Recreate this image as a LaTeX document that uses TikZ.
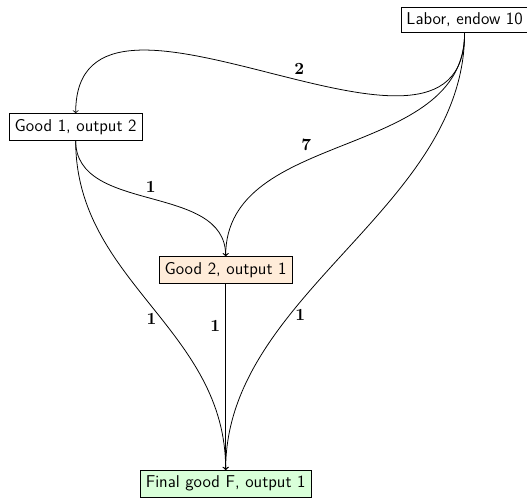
\documentclass[tikz,border=0pt]{standalone}
\usepackage{amsmath}
\begin{document}
\begin{tikzpicture}
        % Common Styles
        \tikzset{good/.style={draw, rectangle, font=\sffamily\fontsize{11}{13}\selectfont, inner sep=3.6pt}}
        \tikzset{flow/.style={->, line width=0.5pt}}
        \tikzset{qty/.style={font=\fontsize{11}{13}\selectfont}}

        \useasboundingbox (0, 0) rectangle (11.91, -11.25);

        % Nodes
        \node[good] (L) at (10.50, -0.45) {Labor, endow 10};
        \node[good] (G1) at (1.71, -2.87) {Good 1, output 2};
        \node[good, fill=orange!15] (G2) at (5.10, -6.10) {Good 2, output 1};
        \node[good, fill=green!15] (F) at (5.10, -10.93) {Final good F, output 1};

        % Labor flows
        \draw[flow] (L.south) to[out=-90, in=90, looseness=1.15] node[pos=0.45, above, qty] {$\mathbf{2}$} (G1.north);
        \draw[flow] (L.south) to[out=-90, in=90, looseness=1.0] node[pos=0.58, above left, qty] {$\mathbf{7}$} (G2.north);
        \draw[flow] (L.south) to[out=-90, in=90, looseness=0.9] node[pos=0.66, right, qty] {$\mathbf{1}$} (F.north);

        % Good 1 flows
        \draw[flow] (G1.south) to[out=-90, in=90, looseness=1.0] node[pos=0.5, above, qty] {$\mathbf{1}$} (G2.north);
        \draw[flow] (G1.south) to[out=-90, in=90, looseness=1.0] node[pos=0.55, left, qty] {$\mathbf{1}$} (F.north);

        % Good 2 flow
        \draw[flow] (G2.south) -- node[pos=0.23, left, qty] {$\mathbf{1}$} (F.north);
    \end{tikzpicture}
\end{document}
